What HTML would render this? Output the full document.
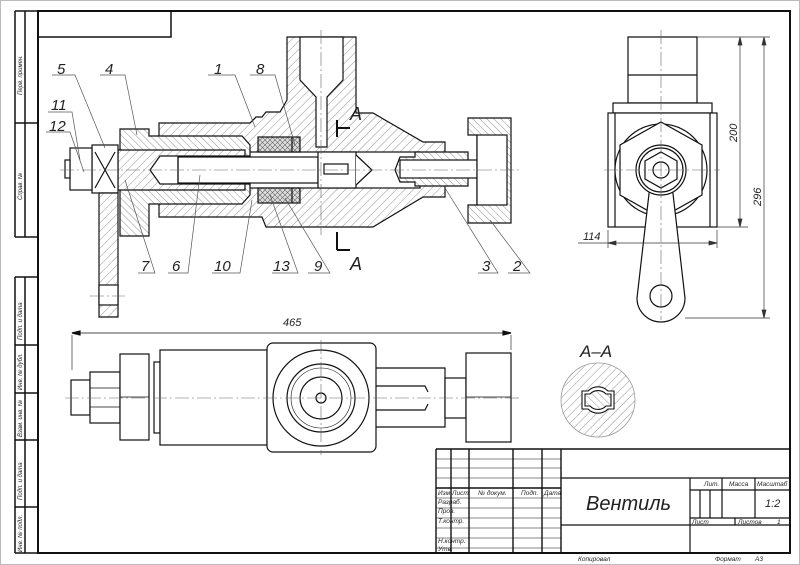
<!DOCTYPE html>
<html><head><meta charset="utf-8"><style>
html,body{margin:0;padding:0;background:#fff;}
svg{display:block;}
text{font-family:"Liberation Sans","DejaVu Sans",sans-serif;font-style:italic;fill:#222;}
</style></head><body>
<svg width="800" height="565" viewBox="0 0 800 565" xmlns="http://www.w3.org/2000/svg">
<defs>
<pattern id="h" width="6" height="6" patternUnits="userSpaceOnUse" patternTransform="rotate(45)">
<rect width="6" height="6" fill="#fff"/><line x1="0" y1="0" x2="0" y2="6" stroke="#777" stroke-width="0.8"/></pattern>
<pattern id="h2" width="5" height="5" patternUnits="userSpaceOnUse" patternTransform="rotate(-45)">
<rect width="5" height="5" fill="#fff"/><line x1="0" y1="0" x2="0" y2="5" stroke="#777" stroke-width="0.8"/></pattern>
<pattern id="hx" width="5" height="5" patternUnits="userSpaceOnUse">
<rect width="5" height="5" fill="#ddd"/><path d="M0 0L5 5M5 0L0 5" stroke="#666" stroke-width="0.6"/></pattern>
</defs>
<rect x="0" y="0" width="800" height="565" fill="#fff"/>
<rect x="0.5" y="0.5" width="799" height="564" fill="none" stroke="#bbb"/>
<g stroke="#111" fill="none">
<!-- frame -->
<rect x="38" y="11" width="752" height="542" stroke-width="2"/>
<rect x="38" y="11" width="133" height="26" stroke-width="1.5"/>
<path d="M15 11V237M25 11V237M15 11H38M15 123H38M15 237H38" stroke-width="1.5"/>
<path d="M15 277V553M25 277V553M15 277H38M15 345H38M15 393H38M15 440H38M15 507H38M15 553H38" stroke-width="1.5"/>
</g>
<g font-size="6" fill="#333">
<text transform="translate(22,95) rotate(-90)">Перв. примен.</text>
<text transform="translate(22,200) rotate(-90)">Справ. №</text>
<text transform="translate(22,340) rotate(-90)">Подп. и дата</text>
<text transform="translate(22,390) rotate(-90)">Инв. № дубл.</text>
<text transform="translate(22,437) rotate(-90)">Взам. инв. №</text>
<text transform="translate(22,500) rotate(-90)">Подп. и дата</text>
<text transform="translate(22,552) rotate(-90)">Инв. № подл.</text>
</g>

<!-- MAIN SECTION -->
<g stroke="#111" stroke-width="1.2">
<!-- body 1 -->
<path d="M159 123H250L256 117H262L266 112H280L287 100V37H356V113H373L423 142H445V197H423L373 227H266L262 217H159Z" fill="url(#h)"/>
<!-- bore top -->
<path d="M300 37H343V80L327 97V147H316V97L300 80Z" fill="#fff"/>
<!-- inner channel -->
<rect x="175" y="152" width="245" height="36" fill="#fff"/>
<!-- nut 4 -->
<path d="M120 129H149V136H242L250 145V195L242 204H149V236H120Z" fill="url(#h2)"/>
<!-- part 7 inner sleeve -->
<path d="M118 150H245V190H118Z" fill="url(#h)"/>
<path d="M160 156H250V184H160L150 170Z" fill="#fff"/>
<!-- spindle 6 -->
<rect x="178" y="157" width="140" height="26" fill="#fff"/>
<line x1="178" y1="157" x2="178" y2="183"/>
<!-- packing 10,13,9 -->
<rect x="258" y="137" width="42" height="15" fill="url(#hx)"/>
<rect x="258" y="188" width="42" height="15" fill="url(#hx)"/>
<line x1="292" y1="137" x2="292" y2="152"/><line x1="292" y1="188" x2="292" y2="203"/>
<!-- valve head 8 -->
<rect x="318" y="152" width="38" height="36" fill="#fff"/>
<rect x="324" y="164" width="24" height="10" fill="#fff"/>
<path d="M356 155L372 170L356 185" fill="#fff"/>
<!-- stem 3 -->
<path d="M400 157H415V152H468V186H415V182H400L395 170Z" fill="url(#h2)"/>
<rect x="400" y="160" width="80" height="18" fill="#fff"/>
<!-- nut 2 -->
<path d="M468 118H511V223H468V205H477V135H468Z" fill="url(#h2)"/>
<rect x="477" y="135" width="30" height="70" fill="#fff"/>
<!-- 5 -->
<rect x="92" y="145" width="26" height="48" fill="#fff"/>
<path d="M95 152L115 188M115 152L95 188"/>
<!-- 11 bolt -->
<rect x="70" y="148" width="22" height="42" fill="#fff"/>
<rect x="65" y="160" width="5" height="18" fill="#fff"/>
<!-- handle -->
<path d="M99 193H118V317H99Z" fill="url(#h)"/>
<rect x="99" y="285" width="19" height="20" fill="#fff"/>
</g>
<g stroke="#666" stroke-width="0.6" stroke-dasharray="14 3 2 3" fill="none">
<line x1="60" y1="170" x2="520" y2="170"/>
<line x1="321" y1="30" x2="321" y2="235"/>
<line x1="90" y1="296" x2="125" y2="296"/>
</g>
<!-- section mark A -->
<g stroke="#111" stroke-width="2" fill="none">
<path d="M337 120V137M337 128H350"/><path d="M337 232V250M337 250H350"/>
</g>
<text x="350" y="120" font-size="18" font-style="normal">A</text>
<text x="350" y="270" font-size="18" font-style="normal">A</text>
<!-- leaders -->
<g stroke="#555" stroke-width="0.7" fill="none">
<path d="M52 75H75L105 148M100 75H125L137 135M208 75H235L255 127M250 75H275L295 145M48 112H72L80 160M46 132H70L84 172"/>
<path d="M138 273H155L125 180M168 273H188L200 175M212 273H240L252 200M272 273H298L270 195M308 273H330L285 198M478 273H498L445 188M508 273H530L490 220"/>
</g>
<g font-size="15">
<text x="57" y="74">5</text><text x="105" y="74">4</text><text x="214" y="74">1</text><text x="256" y="74">8</text>
<text x="51" y="110">11</text><text x="49" y="131">12</text>
<text x="141" y="271">7</text><text x="172" y="271">6</text><text x="214" y="271">10</text><text x="273" y="271">13</text>
<text x="314" y="271">9</text><text x="482" y="271">3</text><text x="513" y="271">2</text>
</g>

<!-- BOTTOM VIEW -->
<g stroke="#111" stroke-width="1.2" fill="#fff">
<line x1="72" y1="333" x2="511" y2="333" stroke-width="0.8"/>
<path d="M72 333l8 -2v4zM511 333l-8 -2v4z" fill="#111"/>
<path d="M72 335V370M511 335V350" stroke-width="0.6"/>
<rect x="71" y="380" width="19" height="35"/>
<rect x="90" y="372" width="30" height="51"/>
<rect x="120" y="354" width="29" height="86"/>
<rect x="154" y="362" width="6" height="71"/>
<rect x="160" y="350" width="107" height="95"/>
<rect x="267" y="343" width="109" height="109" rx="6"/>
<circle cx="321" cy="398" r="48"/>
<circle cx="321" cy="398" r="34"/>
<circle cx="321" cy="398" r="30" stroke-width="0.6"/>
<circle cx="321" cy="398" r="21"/>
<circle cx="321" cy="398" r="5"/>
<path d="M376 368H445V427H376M376 386H425L428 392M376 410H425L428 404" fill="none"/>
<rect x="445" y="378" width="21" height="40"/>
<rect x="466" y="353" width="45" height="89"/>
<path d="M120 397H149M466 397H511M90 388H120M90 407H120" fill="none" stroke-width="0.8"/>
</g>
<line x1="65" y1="398" x2="520" y2="398" stroke="#666" stroke-width="0.6" stroke-dasharray="14 3 2 3"/>
<line x1="321" y1="340" x2="321" y2="455" stroke="#666" stroke-width="0.6" stroke-dasharray="14 3 2 3"/>
<text x="283" y="326" font-size="11">465</text>

<!-- SECTION A-A -->
<text x="580" y="357" font-size="17" font-style="normal">A–A</text>
<g stroke="#111" stroke-width="1.1">
<circle cx="598" cy="400" r="37" fill="url(#h)" stroke="#999" stroke-width="0.8"/>
<path d="M582 391H588A14 14 0 0 1 608 391H614V409H608A14 14 0 0 1 588 409H582Z" fill="#fff"/>
<path d="M585 394H590A11 11 0 0 1 606 394H611V406H606A11 11 0 0 1 590 406H585Z" fill="url(#h2)"/>
</g>

<!-- RIGHT VIEW -->
<g stroke="#111" stroke-width="1.2" fill="#fff">
<path d="M628 37H697V103H628Z"/><line x1="628" y1="75" x2="697" y2="75"/>
<rect x="613" y="103" width="99" height="10"/>
<rect x="608" y="113" width="109" height="114"/>
<path d="M615 113V227M710 113V227" fill="none"/>
<circle cx="661" cy="170" r="46"/>
<polygon points="661,122 702,145 702,195 661,218 620,195 620,145"/>
<path d="M650 185L637 298A24 24 0 0 0 685 298L672 185Z"/>
<circle cx="661" cy="296" r="11"/>
<circle cx="661" cy="170" r="25"/>
<circle cx="661" cy="170" r="22"/>
<polygon points="661,152 677,161 677,179 661,188 645,179 645,161"/>
<circle cx="661" cy="170" r="8"/>
</g>
<g stroke="#666" stroke-width="0.6" stroke-dasharray="14 3 2 3">
<line x1="604" y1="170" x2="720" y2="170"/><line x1="661" y1="30" x2="661" y2="320"/>
</g>
<g stroke="#333" stroke-width="0.7" fill="#333">
<path d="M697 37H770M717 227H748M685 318H770M608 230V248M717 230V248" fill="none"/>
<line x1="740" y1="37" x2="740" y2="227"/><line x1="764" y1="37" x2="764" y2="318"/>
<line x1="578" y1="243" x2="717" y2="243"/>
<path d="M740 37l-2 8h4zM740 227l-2 -8h4zM764 37l-2 8h4zM764 318l-2 -8h4zM608 243l8 -2v4zM717 243l-8 -2v4z"/>
</g>
<text transform="translate(737,142) rotate(-90)" font-size="11">200</text>
<text transform="translate(761,206) rotate(-90)" font-size="11">296</text>
<text x="583" y="240" font-size="11">114</text>

<!-- TITLE BLOCK -->
<g stroke="#111" fill="none">
<path d="M436 449H790M436 449V553M451 449V553M469 449V553M513 449V553M542 449V553M561 449V553" stroke-width="1.4"/>
<path d="M436 459H561M436 468H561M436 478H561M436 498H561M436 508H561M436 518H561M436 528H561M436 538H561M436 548H561" stroke-width="0.6"/>
<path d="M436 488H561" stroke-width="1.4"/>
<path d="M561 478H790M561 525H790M690 478V553M690 490H790M690 518H790M722 478V518M755 478V518M700 490V518M710 490V518M735 518V525" stroke-width="1.2"/>
</g>
<g font-size="6.5">
<text x="438" y="495">Изм</text><text x="452" y="495">Лист</text><text x="478" y="495">№ докум.</text><text x="521" y="495">Подп.</text><text x="544" y="495">Дата</text>
<text x="438" y="504">Разраб.</text><text x="438" y="513">Пров.</text><text x="438" y="523">Т.контр.</text>
<text x="438" y="543">Н.контр.</text><text x="438" y="551">Утв.</text>
<text x="704" y="486">Лит.</text><text x="729" y="486">Масса</text><text x="757" y="486">Масштаб</text>
<text x="692" y="524">Лист</text><text x="738" y="524">Листов</text><text x="777" y="524">1</text>
<text x="578" y="561">Копировал</text><text x="715" y="561">Формат</text><text x="755" y="561">А3</text>
</g>
<text x="765" y="507" font-size="11">1:2</text>
<text x="586" y="510" font-size="20">Вентиль</text>
</svg>
</body></html>
